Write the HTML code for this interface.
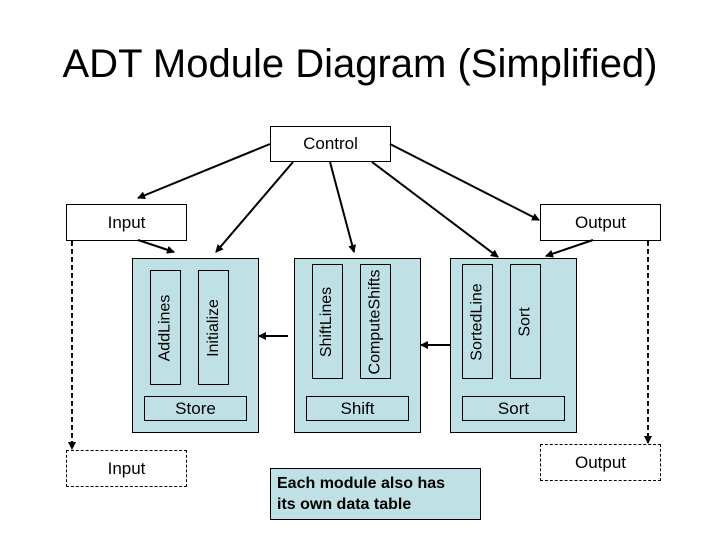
<!DOCTYPE html>
<html><head><style>
body{margin:0;width:720px;height:540px;background:#fff;position:relative;overflow:hidden;font-family:"Liberation Sans",sans-serif}
.b{position:absolute;box-sizing:border-box;border:1px solid #000;display:flex;align-items:center;justify-content:center;font-size:17px}
.m{background:#bfe0e4}
.v span{transform:rotate(-90deg);white-space:nowrap;font-size:16px}
</style></head><body>
<div style="position:absolute;left:0;width:720px;top:42px;text-align:center;font-size:40px">ADT Module Diagram (Simplified)</div>
<div class="b" style="left:270px;top:126px;width:121px;height:36px">Control</div>
<div class="b" style="left:66px;top:204px;width:121px;height:37px">Input</div>
<div class="b" style="left:540px;top:204px;width:121px;height:37px">Output</div>
<div class="b" style="left:66px;top:450px;width:121px;height:37px;border-style:dashed">Input</div>
<div class="b" style="left:540px;top:444px;width:121px;height:37px;border-style:dashed">Output</div>

<div class="b m" style="left:132px;top:258px;width:127px;height:175px"></div>
<div class="b m v" style="left:150px;top:270px;width:31px;height:115px"><span>AddLines</span></div>
<div class="b m v" style="left:198px;top:270px;width:31px;height:115px"><span>Initialize</span></div>
<div class="b m" style="left:144px;top:396px;width:103px;height:25px">Store</div>

<div class="b m" style="left:294px;top:258px;width:127px;height:175px"></div>
<div class="b m v" style="left:312px;top:264px;width:31px;height:115px"><span>ShiftLines</span></div>
<div class="b m v" style="left:360px;top:264px;width:31px;height:115px"><span>ComputeShifts</span></div>
<div class="b m" style="left:306px;top:396px;width:103px;height:25px">Shift</div>

<div class="b m" style="left:450px;top:258px;width:127px;height:175px"></div>
<div class="b m v" style="left:462px;top:264px;width:31px;height:115px"><span>SortedLine</span></div>
<div class="b m v" style="left:510px;top:264px;width:31px;height:115px"><span>Sort</span></div>
<div class="b m" style="left:462px;top:396px;width:103px;height:25px">Sort</div>

<div class="b m" style="left:270px;top:468px;width:211px;height:52px;justify-content:flex-start;align-items:center;padding-left:6px;font-size:16px;line-height:21px;font-weight:bold">Each module also has<br>its own data table</div>

<svg width="720" height="540" style="position:absolute;left:0;top:0">
<defs><marker id="a" markerWidth="8" markerHeight="8" refX="7" refY="4" orient="auto" markerUnits="userSpaceOnUse"><path d="M0,0L8,4L0,8z"/></marker></defs>
<g stroke="#000" stroke-width="2" marker-end="url(#a)">
<line x1="270" y1="144" x2="138" y2="198"/>
<line x1="293" y1="162" x2="216" y2="252"/>
<line x1="330" y1="162" x2="354" y2="252"/>
<line x1="372" y1="162" x2="498" y2="257"/>
<line x1="390" y1="144" x2="539" y2="220"/>
<line x1="138" y1="240" x2="174" y2="252"/>
<line x1="593" y1="240" x2="546" y2="256"/>
<line x1="288" y1="336" x2="259" y2="336"/>
<line x1="450" y1="345" x2="421" y2="345"/>
<line x1="72" y1="241" x2="72" y2="449" stroke-dasharray="5,3"/>
<line x1="648" y1="241" x2="648" y2="443" stroke-dasharray="5,3"/>
</g></svg>
</body></html>
